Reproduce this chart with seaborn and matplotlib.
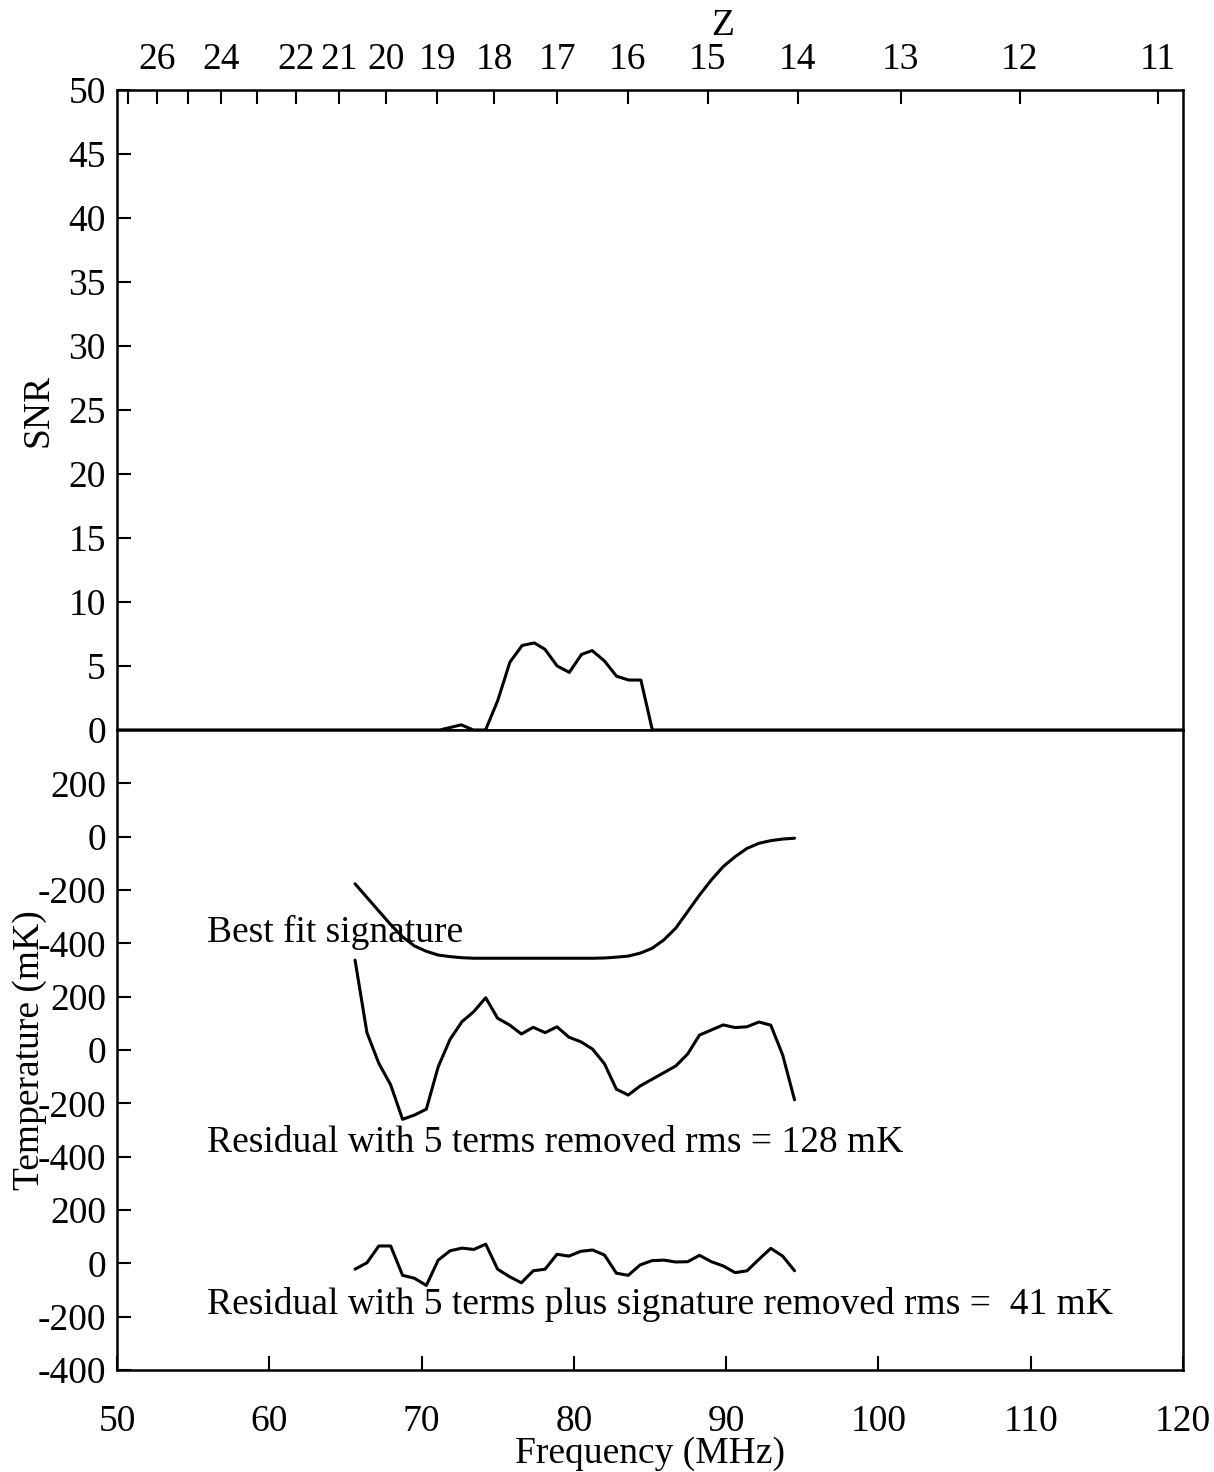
import numpy as np
import pandas as pd
import matplotlib
matplotlib.use("Agg")
import matplotlib.pyplot as plt
import seaborn as sns

# ---------------- data ----------------
snr_freq = [50.0, 71.2, 72.6, 73.4, 74.2, 75.0, 75.8, 76.6, 77.4, 78.1, 78.9,
            79.7, 80.5, 81.2, 82.0, 82.8, 83.6, 84.4, 85.15, 120.0]
snr_vals = [0.0, 0.0, 0.4, 0.0, 0.0, 2.3, 5.3, 6.6, 6.8, 6.3, 5.0,
            4.5, 5.9, 6.2, 5.4, 4.2, 3.9, 3.9, 0.0, 0.0]

freq = [65.63, 66.41, 67.19, 67.97, 68.75, 69.53, 70.31, 71.09, 71.87, 72.65,
        73.43, 74.21, 74.99, 75.77, 76.55, 77.33, 78.11, 78.89, 79.67, 80.45,
        81.23, 82.01, 82.79, 83.57, 84.35, 85.13, 85.91, 86.69, 87.47, 88.25,
        89.03, 89.81, 90.59, 91.37, 92.15, 92.93, 93.71, 94.49]

signature = [-177, -228, -279, -330, -376, -410, -430, -444, -450, -454,
             -456, -456, -456, -456, -456, -456, -456, -456, -456, -456,
             -456, -455, -452, -448, -437, -419, -387, -343, -281, -219,
             -162, -112, -75, -44, -25, -15, -9, -6]

resid5 = [337, 65, -50, -131, -260, -244, -222, -63, 40, 106,
          144, 196, 119, 94, 60, 85, 65, 87, 48, 31,
          3, -52, -147, -169, -135, -110, -85, -60, -15, 56,
          75, 94, 84, 87, 105, 93, -19, -187]

resid5sig = [-22, 2, 65, 65, -45, -56, -83, 12, 47, 57,
             52, 72, -22, -50, -73, -28, -22, 34, 27, 45,
             50, 31, -37, -45, -6, 10, 12, 5, 6, 30,
             6, -10, -35, -28, 15, 56, 27, -28]

z_ticks = [27, 26, 25, 24, 23, 22, 21, 20, 19, 18, 17, 16, 15, 14, 13, 12, 11]
z_labels = ["", "26", "", "24", "", "22", "21", "20", "19", "18", "17",
            "16", "15", "14", "13", "12", "11"]
freq_ticks = [50, 60, 70, 80, 90, 100, 110, 120]
snr_ticks = [0, 5, 10, 15, 20, 25, 30, 35, 40, 45, 50]
temp_tick_labels = ["-400", "-200", "0", "200"] * 3

labels = ["Best fit signature",
          "Residual with 5 terms removed rms = 128 mK",
          "Residual with 5 terms plus signature removed rms =  41 mK"]

# ---------------- style ----------------
sns.set_style("ticks")
plt.rcParams['font.family'] = ['Liberation Serif', 'DejaVu Serif']
for key in ["text.color", "axes.labelcolor", "xtick.color", "ytick.color",
            "axes.edgecolor"]:
    plt.rcParams[key] = "black"
FS = 27
LW = 2.2

fig = plt.figure(figsize=(12.14, 14.72), dpi=100)
ax1 = fig.add_axes([0.0964, 0.5041, 0.8781, 0.4348])
ax2 = fig.add_axes([0.0964, 0.0693, 0.8781, 0.4348])

# ---------------- top panel: SNR ----------------
df_snr = pd.DataFrame({"f": snr_freq, "snr": snr_vals})
sns.lineplot(data=df_snr, x="f", y="snr", ax=ax1, color="black", lw=LW,
             sort=False, estimator=None)
ax1.set_xlim(50, 120)
ax1.set_ylim(0, 50)
ax1.set_yticks(snr_ticks)
ax1.set_yticklabels([str(t) for t in snr_ticks])
ax1.xaxis.tick_top()
ax1.xaxis.set_label_position("top")
zpos = [1420.4 / (1 + z) for z in z_ticks]
ax1.set_xticks(zpos)
ax1.set_xticklabels(z_labels)
ax1.tick_params(axis="x", which="both", top=True, bottom=False, direction="in",
                length=10, width=1.5, labelsize=FS, pad=9)
ax1.tick_params(axis="y", left=True, right=False, direction="in",
                length=10, width=1.5, labelsize=FS, pad=8)
ax1.set_xlabel("Z", fontsize=FS)
ax1.set_ylabel("SNR", fontsize=FS)
ax1.xaxis.set_label_coords(0.5685, 1.10)
ax1.yaxis.set_label_coords(-0.074, 0.5)
ax1.xaxis.label.set_va("center")
ax1.yaxis.label.set_va("center")

# ---------------- bottom panel: temperatures ----------------
offsets = [2000, 1200, 400]
series = [signature, resid5, resid5sig]
rows = []
for name, off, vals in zip(labels, offsets, series):
    for f, v in zip(freq, vals):
        rows.append({"f": f, "T": v + off, "curve": name})
df_t = pd.DataFrame(rows)
sns.lineplot(data=df_t, x="f", y="T", units="curve", estimator=None, sort=False,
             ax=ax2, color="black", lw=LW, legend=False)

ax2.set_xlim(50, 120)
ax2.set_ylim(0, 2400)
ax2.set_yticks(list(range(0, 2400, 200)))
ax2.set_yticklabels(temp_tick_labels)
ax2.set_xticks(freq_ticks)
ax2.set_xticklabels([str(t) for t in freq_ticks])
ax2.tick_params(axis="x", top=False, bottom=True, direction="in",
                length=10, width=1.5, labelsize=FS, pad=25)
ax2.tick_params(axis="y", left=True, right=False, direction="in",
                length=10, width=1.5, labelsize=FS, pad=8)
ax2.set_xlabel("Frequency (MHz)", fontsize=FS)
ax2.set_ylabel("Temperature (mK)", fontsize=FS)
ax2.xaxis.set_label_coords(0.5, -0.131)
ax2.yaxis.set_label_coords(-0.082, 0.5)
ax2.xaxis.label.set_va("center")
ax2.yaxis.label.set_va("center")

text_y = [1642, 851, 244]
for name, ty in zip(labels, text_y):
    ax2.text(55.9, ty, name, fontsize=FS, ha="left", va="center")

for ax in (ax1, ax2):
    for sp in ax.spines.values():
        sp.set_linewidth(1.8)
        sp.set_color("black")
        sp.set_visible(True)

fig.savefig("out.png", dpi=100, facecolor="white")
